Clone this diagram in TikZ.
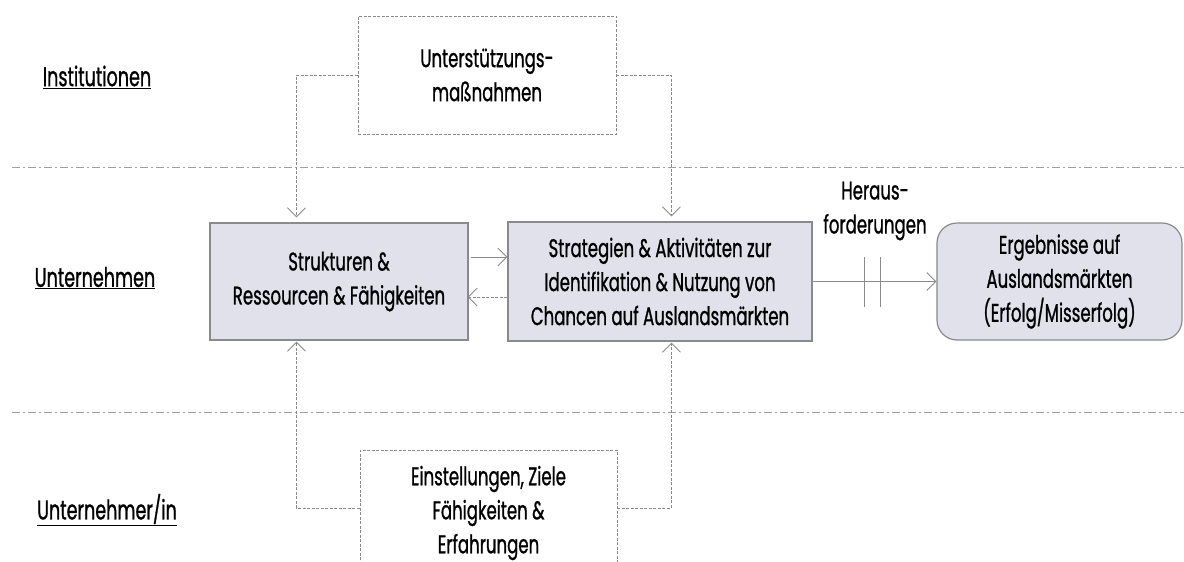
\documentclass[tikz,border=0pt]{standalone}
\usepackage{fontspec}
\setmainfont[FakeStretch=0.65, FakeBold=0.9]{Poppins}
\usetikzlibrary{arrows.meta}
\definecolor{boxfill}{HTML}{E1E1EC}
\definecolor{lin}{HTML}{8A8A8A}
\tikzset{
  solidbox/.style={draw=lin, line width=1.2pt, fill=boxfill, align=center, font=\fontsize{25.5}{34}\selectfont, inner sep=0pt},
  dashbox/.style={draw=lin, line width=0.9pt, dash pattern=on 3pt off 1.5pt, align=center, font=\fontsize{25.5}{34}\selectfont, inner sep=0pt},
  arrowtip/.style={-{Straight Barb[length=9pt,width=18pt,line width=0.9pt]}},
  sconn/.style={draw=lin, line width=1pt, arrowtip},
  dconn/.style={draw=lin, line width=0.9pt, dash pattern=on 3pt off 1.5pt, arrowtip},
  sep/.style={draw=lin!80, line width=0.9pt, dash pattern=on 8pt off 3pt on 2pt off 3pt},
  lbl/.style={font=\fontsize{27}{30}\selectfont, inner sep=0pt},
}
\begin{document}
\begin{tikzpicture}[x=1pt,y=-1pt]
\clip (0,0) rectangle (1184,562);
\fill[white] (0,0) rectangle (1184,562);
% separators
\draw[sep] (12,167) -- (1184,167);
\draw[sep] (12,412) -- (1184,412);
% row labels
\node[lbl] (linst) at (97,77) {\underline{Institutionen}};
\node[lbl] (lunt) at (95,278) {\underline{Unternehmen}};
\node[lbl] (luntin) at (107,510) {\underline{Unternehmer/in}};
% boxes
\node[dashbox, minimum width=258pt, minimum height=118pt] (top) at (487,75) {Unterstützungs-\\maßnahmen};
\node[solidbox, minimum width=258pt, minimum height=117pt] (strukt) at (339,281.5) {Strukturen \&\\Ressourcen \& Fähigkeiten};
\node[solidbox, minimum width=304pt, minimum height=119pt] (strat) at (660,281.5) {Strategien \& Aktivitäten zur\\Identifikation \& Nutzung von\\Chancen auf Auslandsmärkten};
\node[solidbox, rounded corners=20pt, minimum width=245pt, minimum height=117pt] (erg) at (1059.5,281.5) {Ergebnisse auf\\Auslandsmärkten\\(Erfolg/Misserfolg)};
\node[dashbox, minimum width=257pt, minimum height=126pt] (bot) at (488.5,513) {Einstellungen, Ziele\\Fähigkeiten \&\\Erfahrungen};
\node[font=\fontsize{25.5}{34}\selectfont, align=center, inner sep=0pt] (her) at (875,211) {Heraus-\\forderungen};
% connectors
\draw[dconn] (top.west) -| ([xshift=87pt,yshift=5pt]strukt.north west);
\draw[dconn] (top.east) -| ([xshift=164pt,yshift=5pt]strat.north west);
\draw[dconn] (bot.west |- 0,508) -| ([xshift=87pt,yshift=-1pt]strukt.south west);
\draw[dconn] (bot.east |- 0,508) -| ([xshift=164pt,yshift=-1pt]strat.south west);
\draw[sconn] ([xshift=2pt,yshift=24.5pt]strukt.east) -- ([yshift=24.5pt]strat.west);
\draw[dconn] ([yshift=-15.5pt]strat.west) -- ([xshift=-1pt,yshift=-15.5pt]strukt.east);
\draw[sconn] (strat.east) -- (erg.west);
% interruption bars
\draw[draw=lin, line width=1pt] (864,257) -- (864,307) (880,257) -- (880,307);
\end{tikzpicture}
\end{document}
